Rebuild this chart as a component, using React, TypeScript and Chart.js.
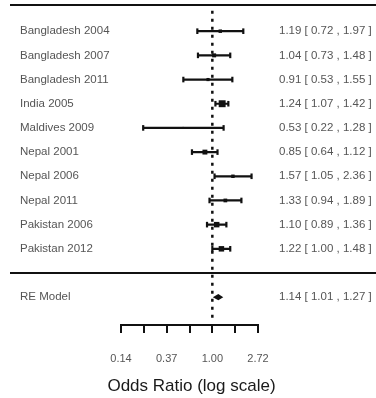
import React, { useEffect, useRef } from "react";
import { Chart, registerables } from "chart.js";

Chart.register(...registerables);

const studies = [
  "Bangladesh 2004",
  "Bangladesh 2007",
  "Bangladesh 2011",
  "India 2005",
  "Maldives 2009",
  "Nepal 2001",
  "Nepal 2006",
  "Nepal 2011",
  "Pakistan 2006",
  "Pakistan 2012",
];
const estimates = [1.19, 1.04, 0.91, 1.24, 0.53, 0.85, 1.57, 1.33, 1.1, 1.22];
const lowers = [0.72, 0.73, 0.53, 1.07, 0.22, 0.64, 1.05, 0.94, 0.89, 1.0];
const uppers = [1.97, 1.48, 1.55, 1.42, 1.28, 1.12, 2.36, 1.89, 1.36, 1.48];
const weights = [6, 8, 5, 24, 2, 12, 6, 7, 15, 15];

const summaryLabel = "RE Model";
const summaryEstimate = 1.14;
const summaryLower = 1.01;
const summaryUpper = 1.27;

const axisTickValues = [-2, -1.5, -1, -0.5, 0, 0.5, 1];
const axisTickLabels: Record<string, string> = { "-2": "0.14", "-1": "0.37", "0": "1.00", "1": "2.72" };
const axisTitle = "Odds Ratio (log scale)";

const studyRows = studies.map((_, i) => i + 1);
const summaryRow = 12;
const allRows = [...studyRows, summaryRow];
const fmt = (v: number) => v.toFixed(2);
const ciText = (e: number, l: number, h: number) => `${fmt(e)} [ ${fmt(l)} , ${fmt(h)} ]`;

const FONT = "'Liberation Sans', Arial, sans-serif";

const zeroPad = (s: any) => {
  s.paddingTop = 0;
  s.paddingBottom = 0;
  s.paddingLeft = 0;
  s.paddingRight = 0;
};

export default function App() {
  const ref = useRef<HTMLCanvasElement | null>(null);

  useEffect(() => {
    if (!ref.current) return;

    const ciData: { x: number; y: number }[] = [];
    studies.forEach((_, i) => {
      ciData.push({ x: Math.log(lowers[i]), y: studyRows[i] });
      ciData.push({ x: Math.log(uppers[i]), y: studyRows[i] });
      ciData.push({ x: NaN, y: NaN });
    });
    const estData = studies.map((_, i) => ({ x: Math.log(estimates[i]), y: studyRows[i] }));

    const leftLabel = (v: number) => {
      if (v === summaryRow) return summaryLabel;
      const i = studyRows.indexOf(v);
      return i >= 0 ? studies[i] : "";
    };
    const rightLabel = (v: number) => {
      if (v === summaryRow) return ciText(summaryEstimate, summaryLower, summaryUpper);
      const i = studyRows.indexOf(v);
      return i >= 0 ? ciText(estimates[i], lowers[i], uppers[i]) : "";
    };

    const decor = {
      id: "forestDecor",
      afterDatasetsDraw(chart: any) {
        const { ctx, scales, width } = chart;
        const x = scales.x;
        const y = scales.y;
        ctx.save();
        // separators
        ctx.strokeStyle = "#111";
        ctx.lineWidth = 2;
        [0, 11].forEach((r) => {
          const py = Math.round(y.getPixelForValue(r)) - (r === 0 ? 2 : 0);
          ctx.beginPath();
          ctx.moveTo(10, py);
          ctx.lineTo(width, py);
          ctx.stroke();
        });
        // summary diamond
        const yc = y.getPixelForValue(summaryRow);
        const h = Math.abs(y.getPixelForValue(summaryRow + 0.13) - yc);
        ctx.fillStyle = "#111";
        ctx.beginPath();
        ctx.moveTo(x.getPixelForValue(Math.log(summaryLower)), yc);
        ctx.lineTo(x.getPixelForValue(Math.log(summaryEstimate)), yc - h);
        ctx.lineTo(x.getPixelForValue(Math.log(summaryUpper)), yc);
        ctx.lineTo(x.getPixelForValue(Math.log(summaryEstimate)), yc + h);
        ctx.closePath();
        ctx.fill();
        // axis title (drawn without width compression)
        ctx.fillStyle = "#1a1a1a";
        ctx.font = `17px ${FONT}`;
        ctx.textAlign = "center";
        ctx.textBaseline = "middle";
        ctx.fillText(axisTitle, (x.left + x.right) / 2 + 2, x.bottom - 12);
        ctx.restore();
      },
    };

    const yCommon = {
      type: "linear" as const,
      min: 0,
      max: 13.15,
      reverse: true,
      grid: { display: false, drawTicks: false },
      border: { display: false },
      afterBuildTicks: (s: any) => {
        s.ticks = allRows.map((v) => ({ value: v }));
      },
    };

    const chart = new Chart(ref.current, {
      type: "scatter",
      data: {
        datasets: [
          {
            type: "line",
            data: [
              { x: 0, y: 0.16 },
              { x: 0, y: 13.0 },
            ],
            borderColor: "#111",
            borderWidth: 2.5,
            borderDash: [3, 5],
            pointRadius: 0,
          } as any,
          {
            type: "line",
            data: ciData,
            borderColor: "#111",
            borderWidth: 2.2,
            spanGaps: false,
            pointStyle: "line",
            rotation: 90,
            pointRadius: 2.8,
            pointBorderWidth: 2.2,
            pointBorderColor: "#111",
          } as any,
          {
            type: "scatter",
            data: estData,
            pointStyle: "rect",
            pointRadius: weights.map((w) => Math.sqrt(w)),
            pointBackgroundColor: "#111",
            pointBorderWidth: 0,
          } as any,
        ],
      },
      options: {
        animation: false,
        responsive: false,
        devicePixelRatio: 1,
        layout: { padding: { left: 20, top: 7, right: 0, bottom: 0 } },
        plugins: { legend: { display: false }, tooltip: { enabled: false } },
        scales: {
          x: {
            type: "linear",
            position: "bottom",
            min: -2,
            max: 1,
            offset: false,
            afterBuildTicks: (s: any) => {
              s.ticks = axisTickValues.map((v) => ({ value: v }));
            },
            grid: {
              display: true,
              drawOnChartArea: false,
              drawTicks: true,
              tickLength: 8,
              color: "#111",
              lineWidth: 2,
            },
            border: { display: true, color: "#111", width: 2 },
            ticks: {
              autoSkip: false,
              maxRotation: 0,
              padding: 19,
              color: "#555",
              font: { family: FONT, size: 11 },
              callback: (v: any) => axisTickLabels[String(v)] ?? "",
            },
            title: { display: false },
            afterFit: (s: any) => {
              s.height = 73;
              zeroPad(s);
            },
          },
          y: {
            ...yCommon,
            position: "left",
            ticks: {
              autoSkip: false,
              crossAlign: "far",
              padding: 0,
              color: "#555",
              font: { family: FONT, size: 11.5 },
              callback: (v: any) => leftLabel(Number(v)),
            },
            afterFit: (s: any) => {
              s.width = 101;
              zeroPad(s);
            },
          },
          yr: {
            ...yCommon,
            position: "right",
            ticks: {
              autoSkip: false,
              crossAlign: "near",
              padding: 21,
              color: "#555",
              font: { family: FONT, size: 11.5 },
              callback: (v: any) => rightLabel(Number(v)),
            },
            afterFit: (s: any) => {
              s.width = 118;
              zeroPad(s);
            },
          },
        },
      } as any,
      plugins: [decor],
    });

    return () => chart.destroy();
  }, []);

  return (
    <div style={{ position: "fixed", left: 0, top: 0, width: 376, height: 398, background: "#fff" }}>
      <canvas ref={ref} width={376} height={398} style={{ width: 376, height: 398, display: "block" }} />
    </div>
  );
}
